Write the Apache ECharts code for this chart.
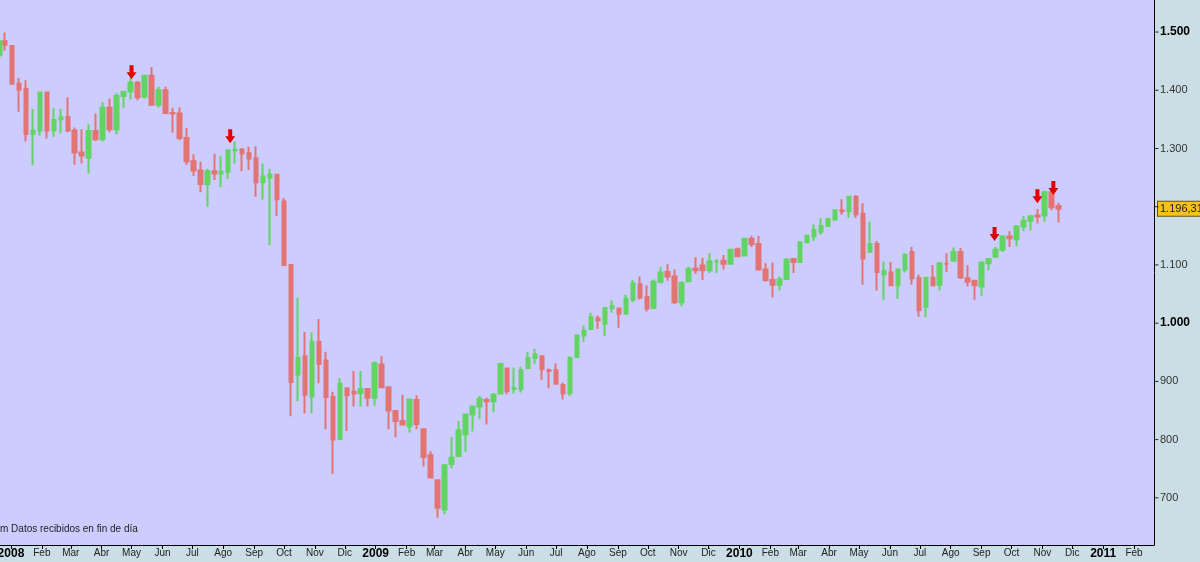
<!DOCTYPE html>
<html>
<head>
<meta charset="utf-8">
<script src="https://cdn.jsdelivr.net/npm/echarts@6/dist/echarts.min.js"></script>
<style>
html,body{margin:0;padding:0;background:#cbdde5;}
#chart{width:1200px;height:562px;}
</style>
</head>
<body>
<div id="chart"></div>
<script>
// Weekly bars (mid-week dates)
const weeks = ['2007-12-21','2007-12-26','2008-01-02','2008-01-09','2008-01-16','2008-01-23','2008-01-30','2008-02-06','2008-02-13','2008-02-20','2008-02-27','2008-03-05','2008-03-12','2008-03-19','2008-03-26','2008-04-02','2008-04-09','2008-04-16','2008-04-23','2008-04-30','2008-05-07','2008-05-14','2008-05-21','2008-05-28','2008-06-04','2008-06-11','2008-06-18','2008-06-25','2008-07-02','2008-07-09','2008-07-16','2008-07-23','2008-07-30','2008-08-06','2008-08-13','2008-08-20','2008-08-27','2008-09-03','2008-09-10','2008-09-17','2008-09-24','2008-10-01','2008-10-08','2008-10-15','2008-10-22','2008-10-29','2008-11-05','2008-11-12','2008-11-19','2008-11-26','2008-12-03','2008-12-10','2008-12-17','2008-12-24','2008-12-31','2009-01-07','2009-01-14','2009-01-21','2009-01-28','2009-02-04','2009-02-11','2009-02-18','2009-02-25','2009-03-04','2009-03-11','2009-03-18','2009-03-25','2009-04-01','2009-04-08','2009-04-15','2009-04-22','2009-04-29','2009-05-06','2009-05-13','2009-05-20','2009-05-27','2009-06-03','2009-06-10','2009-06-17','2009-06-24','2009-07-01','2009-07-08','2009-07-15','2009-07-22','2009-07-29','2009-08-05','2009-08-12','2009-08-19','2009-08-26','2009-09-02','2009-09-09','2009-09-16','2009-09-23','2009-09-30','2009-10-07','2009-10-14','2009-10-21','2009-10-28','2009-11-04','2009-11-11','2009-11-18','2009-11-25','2009-12-02','2009-12-09','2009-12-16','2009-12-23','2009-12-30','2010-01-06','2010-01-13','2010-01-20','2010-01-27','2010-02-03','2010-02-10','2010-02-17','2010-02-24','2010-03-03','2010-03-10','2010-03-17','2010-03-24','2010-03-31','2010-04-07','2010-04-14','2010-04-21','2010-04-28','2010-05-05','2010-05-12','2010-05-19','2010-05-26','2010-06-02','2010-06-09','2010-06-16','2010-06-23','2010-06-30','2010-07-07','2010-07-14','2010-07-21','2010-07-28','2010-08-04','2010-08-11','2010-08-18','2010-08-25','2010-09-01','2010-09-08','2010-09-15','2010-09-22','2010-09-29','2010-10-06','2010-10-13','2010-10-20','2010-10-27','2010-11-03','2010-11-10','2010-11-17'];
const opens  = [1461,1484,1476,1411,1402,1325,1331,1396,1331,1350,1354,1331,1293,1284,1330,1316,1370,1333,1390,1398,1413,1389,1425,1375,1400,1361,1360,1318,1278,1262,1239,1261,1257,1260,1297,1298,1292,1283,1242,1250,1255,1209,1100,912,943,874,968,936,873,801,888,882,880,887,872,929,890,849,832,823,868,818,773,730,680,758,772,809,843,857,868,866,879,922,887,887,923,940,943,919,919,894,880,942,979,990,1008,999,1026,1025,1016,1040,1067,1045,1026,1071,1088,1080,1036,1072,1094,1099,1091,1106,1107,1102,1127,1116,1145,1136,1092,1074,1066,1076,1110,1105,1139,1149,1157,1167,1178,1194,1192,1217,1188,1122,1136,1084,1087,1065,1092,1122,1077,1028,1078,1066,1102,1107,1122,1077,1073,1063,1103,1114,1126,1149,1144,1166,1176,1185,1185,1225,1201];
const closes = [1484,1478,1411,1401,1325,1331,1396,1331,1349,1353,1331,1293,1288,1330,1316,1370,1333,1390,1397,1413,1388,1425,1375,1400,1361,1360,1318,1278,1262,1239,1261,1257,1260,1297,1298,1292,1283,1242,1252,1255,1213,1100,899,940,877,968,930,873,800,896,876,879,887,872,931,890,850,832,826,869,827,770,735,683,756,769,816,843,857,870,866,877,930,883,888,919,940,946,921,918,896,879,940,979,987,1010,1005,1026,1029,1016,1042,1068,1044,1025,1071,1087,1080,1036,1069,1093,1091,1091,1106,1106,1102,1126,1115,1145,1136,1092,1074,1066,1075,1109,1105,1139,1150,1160,1167,1179,1194,1192,1217,1187,1111,1136,1088,1089,1065,1092,1117,1077,1022,1078,1065,1103,1102,1122,1079,1071,1065,1104,1110,1126,1149,1146,1166,1176,1183,1183,1225,1199,1196.31];
const lows   = [1456,1468,1410,1363,1312,1271,1322,1317,1320,1326,1328,1272,1274,1257,1313,1312,1328,1324,1370,1384,1383,1386,1373,1370,1360,1327,1314,1272,1253,1225,1200,1246,1234,1248,1274,1261,1263,1217,1212,1134,1184,1098,840,866,845,845,897,818,741,800,815,857,857,857,858,888,818,804,826,812,818,754,734,666,672,751,772,779,814,836,826,847,879,878,879,881,923,930,903,888,896,869,875,940,968,990,990,978,1018,992,1016,1036,1040,1020,1025,1068,1073,1033,1029,1072,1085,1074,1086,1086,1092,1102,1115,1116,1131,1090,1071,1044,1056,1076,1086,1105,1137,1141,1152,1165,1176,1186,1181,1181,1066,1122,1056,1040,1064,1042,1087,1066,1011,1010,1063,1056,1088,1107,1076,1063,1040,1047,1091,1114,1122,1131,1132,1158,1159,1171,1174,1194,1173];
const highs  = [1485,1499,1477,1421,1417,1368,1397,1396,1369,1368,1388,1336,1333,1341,1360,1380,1386,1395,1399,1422,1416,1426,1440,1406,1406,1370,1371,1335,1290,1277,1265,1291,1287,1297,1313,1301,1303,1304,1274,1265,1255,1215,1100,1044,985,984,1007,951,882,906,888,918,918,887,934,943,890,850,877,870,876,818,780,730,758,804,832,845,857,875,872,880,930,922,924,925,951,956,943,922,931,898,943,979,996,1018,1013,1027,1039,1025,1049,1074,1080,1065,1075,1096,1101,1092,1072,1097,1113,1112,1120,1110,1117,1127,1130,1145,1150,1150,1103,1104,1080,1112,1112,1139,1151,1170,1180,1181,1194,1213,1218,1220,1206,1174,1141,1106,1105,1092,1120,1131,1083,1078,1100,1103,1120,1130,1129,1100,1073,1105,1110,1131,1149,1158,1168,1184,1186,1196,1227,1226,1207];

// Signal arrows (tip positions)
const arrowDates  = ['2008-05-01','2008-08-08','2010-09-14','2010-10-27','2010-11-12'];
const arrowValues = [1419,1309,1141,1206,1220];

const lastPrice = 1196.31;
const lastPriceLabel = '1.196,31';

// Axis labels / ticks
const monthNames = ['Ene','Feb','Mar','Abr','May','Jun','Jul','Ago','Sep','Oct','Nov','Dic'];
const yTicks = [700,800,900,1000,1100,1200,1300,1400,1500];
const yLabelTicks = [700,800,900,1000,1100,1300,1400,1500];
const boldTicks = [1000,1500];

const Y_MIN = 619, Y_MAX = 1555;

const ohlc = weeks.map((d,i)=>[d, opens[i], closes[i], lows[i], highs[i]]);

function fmtNum(v){
  if (v >= 1000) return Math.floor(v/1000) + '.' + String(v % 1000).padStart(3,'0');
  return String(v);
}

const chart = echarts.init(document.getElementById('chart'), null, {renderer:'canvas'});
chart.setOption({
  animation: false,
  backgroundColor: '#cbdde5',
  grid: [
    {left: 0, right: 46, top: 0, bottom: 17, show: true, backgroundColor: '#ccccff', borderWidth: 0, containLabel: false, outerBoundsMode: 'none'},
    {left: 1154, right: 0, top: 0, bottom: 17, show: false, containLabel: false, outerBoundsMode: 'none'}
  ],
  xAxis: [{
    type: 'time',
    gridIndex: 0,
    min: '2007-12-21',
    max: '2011-02-21',
    splitNumber: 38,
    minInterval: 28*86400000,
    maxInterval: 31*86400000,
    axisLine: {show: true, lineStyle: {color: '#000', width: 1}},
    axisTick: {show: true, length: 4, lineStyle: {color: '#000'}},
    splitLine: {show: false},
    axisLabel: {
      margin: 3,
      hideOverlap: false,
      showMinLabel: false,
      showMaxLabel: false,
      fontFamily: 'Liberation Sans',
      fontSize: 10,
      color: '#222',
      formatter: function(val){
        const d = new Date(val);
        if (d.getDate() !== 1) return '';
        const m = d.getMonth();
        if (m === 0) return '{y|' + d.getFullYear() + '}';
        return monthNames[m];
      },
      rich: {y: {fontFamily: 'Liberation Sans', fontSize: 12, fontWeight: 'bold', color: '#000'}}
    }
  }, {
    type: 'value', gridIndex: 1, min: 0, max: 46, show: false
  }],
  yAxis: [{
    type: 'value',
    gridIndex: 0,
    position: 'right',
    min: Y_MIN,
    max: Y_MAX,
    axisLine: {show: true, lineStyle: {color: '#000', width: 1}},
    axisTick: {show: false},
    splitLine: {show: false},
    axisLabel: {
      margin: 6,
      customValues: yLabelTicks,
      fontFamily: 'Liberation Sans',
      fontSize: 11,
      color: '#333',
      formatter: function(v){
        const s = fmtNum(v);
        return boldTicks.indexOf(v) >= 0 ? '{b|' + s + '}' : s;
      },
      rich: {b: {fontFamily: 'Liberation Sans', fontSize: 12, fontWeight: 'bold', color: '#000'}}
    }
  }, {
    type: 'value', gridIndex: 1, min: Y_MIN, max: Y_MAX, show: false
  }],
  graphic: [{
    type: 'text', left: 0, top: 524,
    style: {text: 'm Datos recibidos en fin de día', font: '10px "Liberation Sans"', fill: '#222'}
  }],
  series: [{
    type: 'candlestick',
    xAxisIndex: 0, yAxisIndex: 0,
    data: ohlc,
    barWidth: 4,
    clip: false,
    itemStyle: {color: '#62d462', color0: '#e27474', borderColor: '#62d462', borderColor0: '#e27474', borderWidth: 2},
    markPoint: {
      symbol: 'path://M3,0 L7,0 L7,7 L10,7 L5,14 L0,7 L3,7 Z',
      symbolSize: [10, 14],
      symbolOffset: [0, '-50%'],
      itemStyle: {color: '#e00000'},
      label: {show: false},
      data: arrowDates.map((d,i)=>({coord: [d, arrowValues[i]]}))
    },
    markLine: {
      silent: true,
      symbol: ['none','none'],
      lineStyle: {color: 'rgba(0,0,0,0)', width: 0},
      label: {
        show: true, position: 'end', distance: 4,
        formatter: lastPriceLabel,
        backgroundColor: '#f5c21b', borderColor: '#6b5200', borderWidth: 1,
        padding: [2,2,1,2], color: '#222', fontFamily: 'Liberation Sans', fontSize: 11
      },
      data: [{yAxis: lastPrice}]
    }
  }, {
    // price-axis tick marks, placed through the price scale of the axis strip
    type: 'scatter',
    xAxisIndex: 1, yAxisIndex: 1,
    silent: true,
    clip: false,
    symbol: 'rect',
    symbolSize: [4, 1],
    itemStyle: {color: '#000'},
    data: yTicks.map(v => [2.5, v]),
    z: 5
  }]
});
</script>
</body>
</html>
